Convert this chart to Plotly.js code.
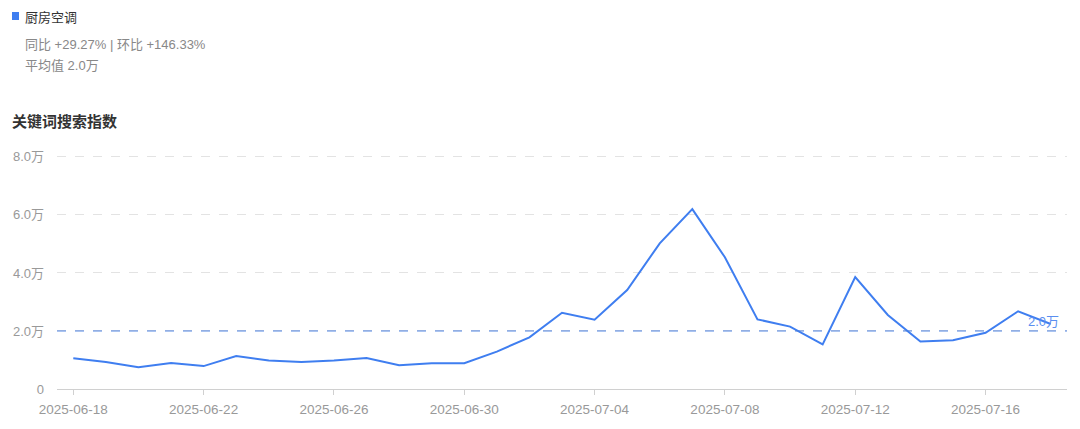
<!DOCTYPE html>
<html>
<head>
<meta charset="utf-8">
<script src="https://cdn.plot.ly/plotly-3.0.1.min.js"></script>
<style>
html,body{margin:0;padding:0;background:#fff;}
#chart{width:1080px;height:429px;}
</style>
</head>
<body>
<div id="chart"></div>
<script>
const dates = ["2025-06-18","2025-06-19","2025-06-20","2025-06-21","2025-06-22","2025-06-23","2025-06-24","2025-06-25","2025-06-26","2025-06-27","2025-06-28","2025-06-29","2025-06-30","2025-07-01","2025-07-02","2025-07-03","2025-07-04","2025-07-05","2025-07-06","2025-07-07","2025-07-08","2025-07-09","2025-07-10","2025-07-11","2025-07-12","2025-07-13","2025-07-14","2025-07-15","2025-07-16","2025-07-17","2025-07-18"];
// search index, unit: 万
const searchIndex = [1.06,0.93,0.75,0.90,0.79,1.14,0.98,0.93,0.98,1.07,0.82,0.89,0.89,1.29,1.78,2.63,2.39,3.41,5.02,6.20,4.54,2.40,2.15,1.54,3.86,2.55,1.64,1.68,1.94,2.68,2.24];
const averageValue = 2.0;
const yTickVals = [0,2,4,6,8];
const yTickText = ["0","2.0万","4.0万","6.0万","8.0万"];
const xTickVals = ["2025-06-18","2025-06-22","2025-06-26","2025-06-30","2025-07-04","2025-07-08","2025-07-12","2025-07-16"];
const seriesName = "厨房空调";
const statText = "同比 +29.27% | 环比 +146.33%";
const avgText = "平均值 2.0万";
const chartTitle = "关键词搜索指数";
const avgLabel = "2.0万";

const FONT = '"Liberation Sans", "Noto Sans CJK SC", sans-serif';
const CJK = '"Noto Sans CJK SC", sans-serif';
const BLUE = "#3f7ef0";
const W = 1010, H = 235, T = 154;

const trace = {
  x: dates, y: searchIndex, type: "scatter", mode: "lines",
  line: {color: BLUE, width: 2}, hoverinfo: "x+y", showlegend: false
};

const layout = {
  width: 1080, height: 429,
  margin: {l: 57, r: 13, t: T, b: 40},
  paper_bgcolor: "#fff", plot_bgcolor: "#fff",
  font: {family: FONT, size: 12, color: "#999"},
  xaxis: {
    type: "category", range: [-0.5, dates.length - 0.5],
    tickvals: xTickVals, ticktext: xTickVals,
    showgrid: false, showline: true, linecolor: "#d0d0d0", linewidth: 1,
    ticks: "outside", ticklen: 5, tickcolor: "#d0d0d0", ticklabelstandoff: 3,
    tickfont: {family: FONT, size: 13.5, color: "#999"}, zeroline: false, fixedrange: true
  },
  yaxis: {
    range: [0, 8.1], tickvals: yTickVals, ticktext: yTickText,
    showgrid: true, gridcolor: "#e3e3e3", griddash: "dash", gridwidth: 1,
    zeroline: false, showline: false, ticks: "", ticklabelstandoff: 12,
    tickfont: {family: FONT, size: 13, color: "#999"}, fixedrange: true
  },
  shapes: [
    {type: "line", xref: "paper", x0: 0, x1: 1, yref: "y", y0: averageValue, y1: averageValue,
     line: {color: "#4a7fe0", width: 1, dash: "dash"}},
    {type: "rect", xref: "paper", yref: "paper", x0: -45/W, x1: -38/W,
     y0: 1 + (T-20)/H, y1: 1 + (T-12)/H, fillcolor: BLUE, line: {width: 0}}
  ],
  annotations: [
    {xref: "paper", yref: "y", x: 1, y: averageValue, xanchor: "right", yanchor: "bottom",
     text: avgLabel, showarrow: false, font: {family: FONT, size: 13, color: "#5b8ff0"}, xshift: -6, yshift: 0},
    {xref: "paper", yref: "paper", x: -34/W, y: 1 + (T-17)/H, xanchor: "left", yanchor: "middle",
     text: seriesName, showarrow: false, font: {family: CJK, size: 13, color: "#333"}},
    {xref: "paper", yref: "paper", x: -34/W, y: 1 + (T-44)/H, xanchor: "left", yanchor: "middle",
     text: statText, showarrow: false, font: {family: FONT, size: 13, color: "#888"}},
    {xref: "paper", yref: "paper", x: -34/W, y: 1 + (T-65)/H, xanchor: "left", yanchor: "middle",
     text: avgText, showarrow: false, font: {family: FONT, size: 13, color: "#888"}},
    {xref: "paper", yref: "paper", x: -47/W, y: 1 + (T-121)/H, xanchor: "left", yanchor: "middle",
     text: "<b>" + chartTitle + "</b>", showarrow: false, font: {family: CJK, size: 15, color: "#333"}}
  ]
};

Plotly.newPlot("chart", [trace], layout, {displayModeBar: false, staticPlot: true});
</script>
</body>
</html>
